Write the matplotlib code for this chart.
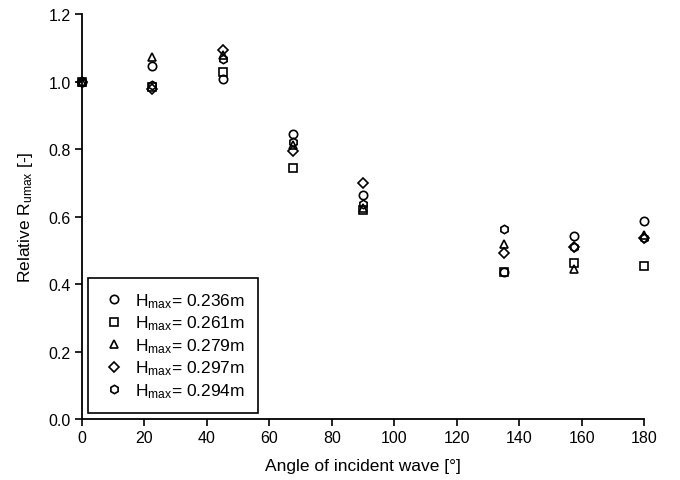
import matplotlib
matplotlib.use("Agg")
import matplotlib.pyplot as plt

plt.rcParams['font.family'] = ['Liberation Sans', 'DejaVu Sans']
plt.rcParams['mathtext.fontset'] = 'custom'
plt.rcParams['mathtext.rm'] = 'Liberation Sans'
plt.rcParams['mathtext.it'] = 'Liberation Sans'

angles = [0, 22.5, 45, 67.5, 90, 135, 157.5, 180]
labels = ['0.236m', '0.261m', '0.279m', '0.297m', '0.294m']
h236 = [1.0, 1.045, 1.008, 0.843, 0.665, 0.436, 0.542, 0.588]
h261 = [1.0, 0.985, 1.028, 0.745, 0.618, 0.436, 0.462, 0.453]
h279 = [1.0, 1.074, 1.078, 0.812, 0.625, 0.519, 0.444, 0.546]
h297 = [1.0, 0.978, 1.094, 0.795, 0.700, 0.493, 0.511, 0.535]
h294 = [1.0, 0.990, 1.068, 0.820, 0.636, 0.562, 0.511, 0.537]
series = [h236, h261, h279, h297, h294]
markers = ['o', 's', '^', 'D', 'h']
sizes = [6, 5.5, 6, 5, 6]

fig = plt.figure(figsize=(6.8, 4.81), dpi=100)
ax = fig.add_axes([0.1206, 0.1268, 0.8265, 0.842])

for vals, m, s, lab in zip(series, markers, sizes, labels):
    ax.plot(angles, vals, linestyle='none', marker=m, markersize=s,
            markerfacecolor='none', markeredgecolor='black', markeredgewidth=1.2,
            clip_on=False, label=r'H$_{\mathrm{max}}$= ' + lab)

ax.set_xlim(0, 180)
ax.set_ylim(0, 1.2)
ax.set_xticks(range(0, 181, 20))
ax.set_yticks([0.0, 0.2, 0.4, 0.6, 0.8, 1.0, 1.2])
ax.set_yticklabels(['0.0', '0.2', '0.4', '0.6', '0.8', '1.0', '1.2'])
for sp in ['top', 'right']:
    ax.spines[sp].set_visible(False)
for sp in ['left', 'bottom']:
    ax.spines[sp].set_linewidth(1.3)
ax.tick_params(direction='out', length=5, width=1.2, labelsize=11.5, pad=3)

ax.set_xlabel('Angle of incident wave [°]', fontsize=12.5, labelpad=9)
ax.set_ylabel(r'Relative R$_{\mathrm{umax}}$ [-]', fontsize=12.5, labelpad=10)

leg = ax.legend(loc='lower left', bbox_to_anchor=(0.01, 0.015), borderaxespad=0,
                fancybox=False, edgecolor='black', framealpha=1, fontsize=12.5,
                handletextpad=0.5, handlelength=1.5, borderpad=0.75,
                labelspacing=0.22)
leg.get_frame().set_linewidth(1.2)

fig.savefig('out.png', dpi=100)
